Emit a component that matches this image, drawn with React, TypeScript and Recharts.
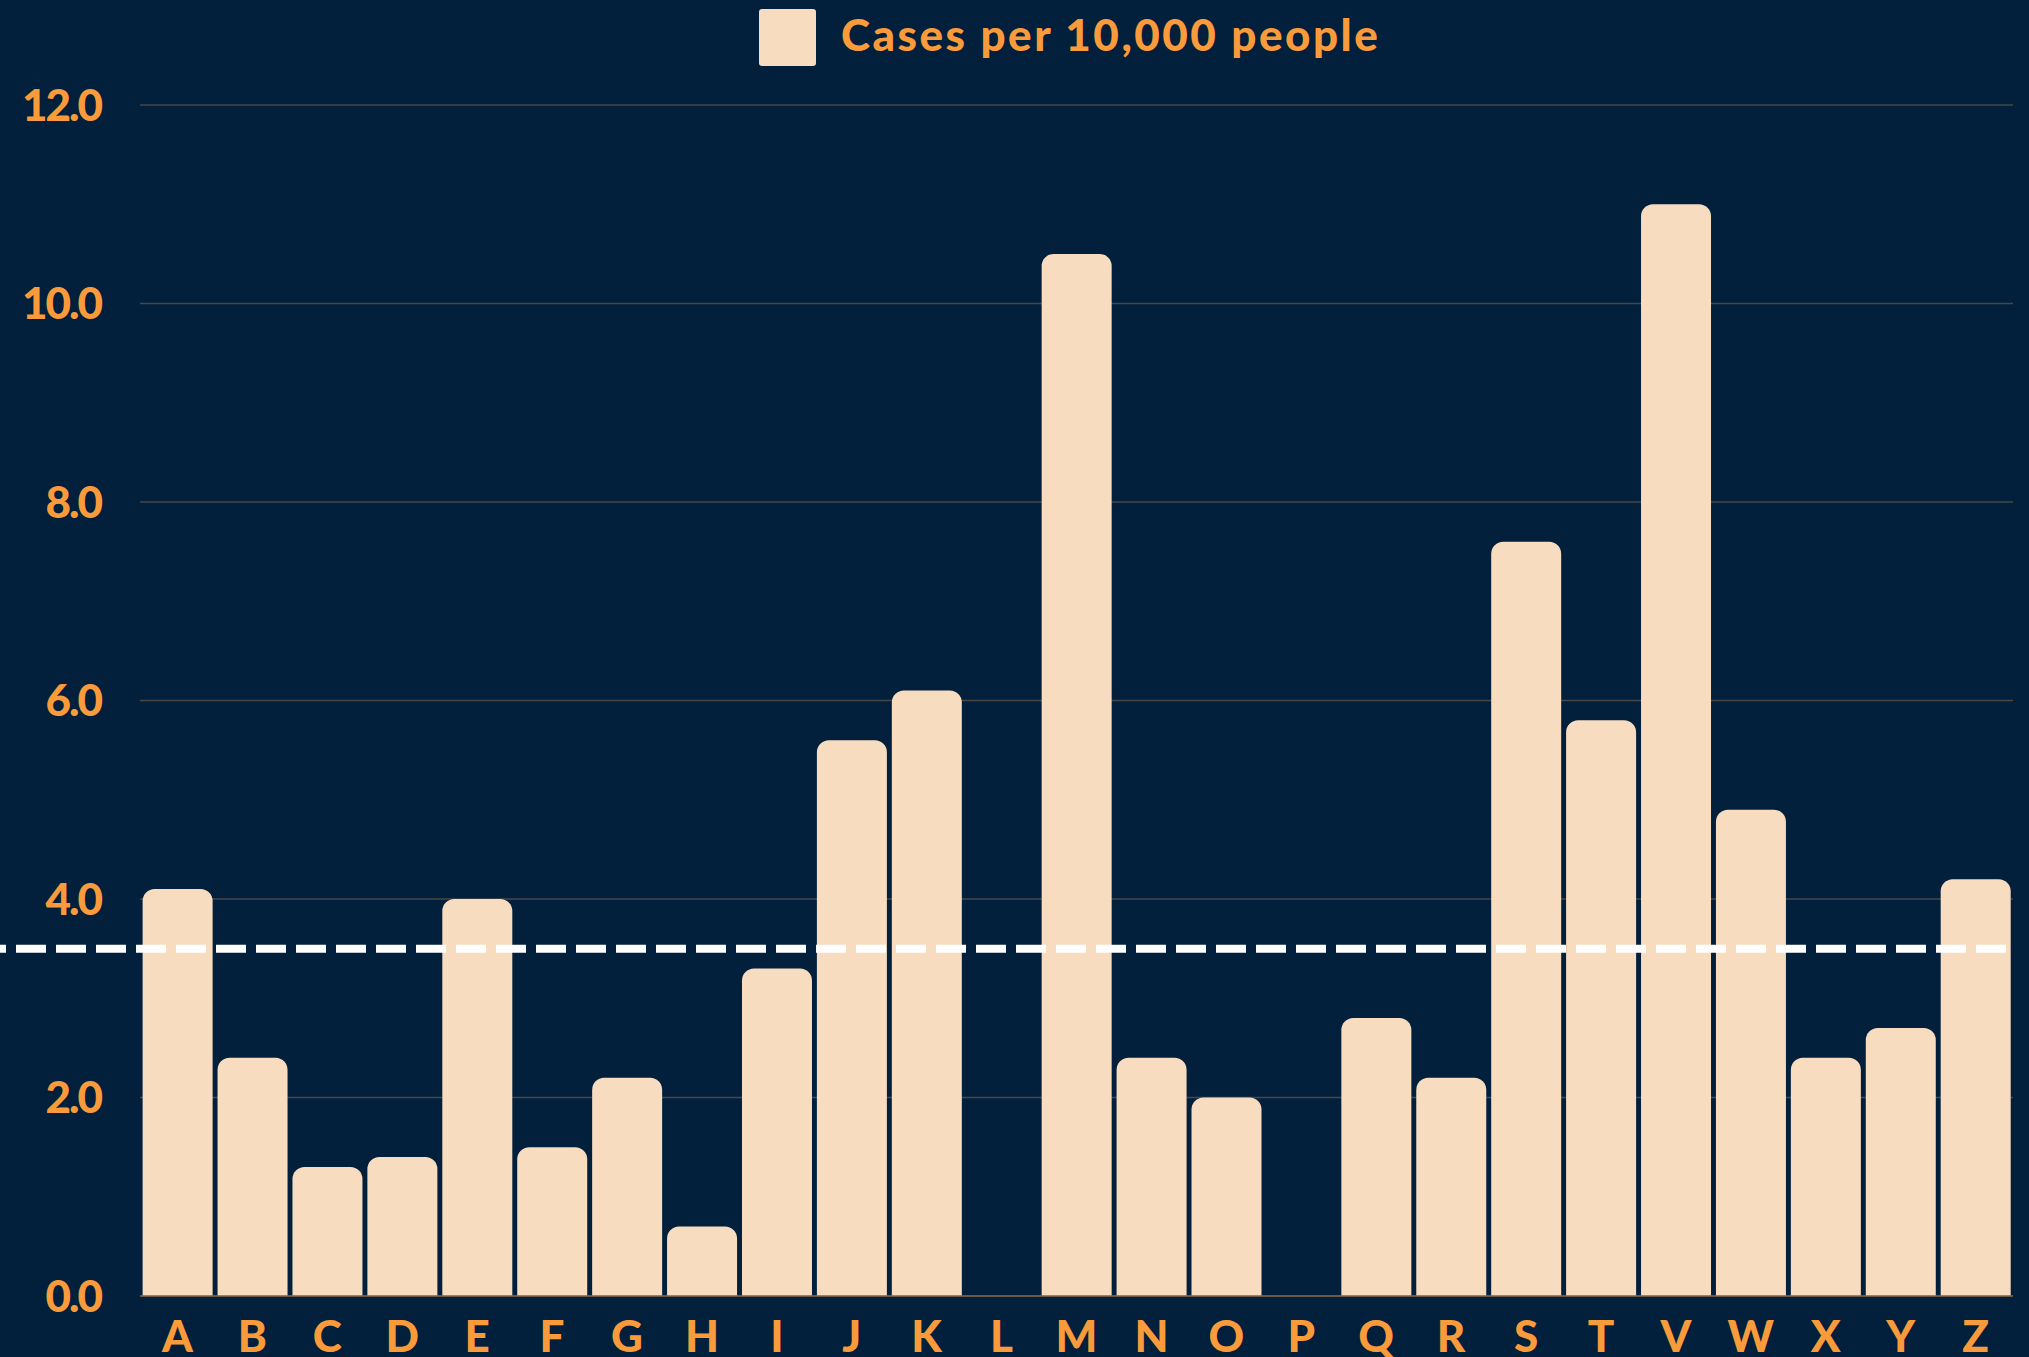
import { BarChart, Bar, XAxis, YAxis, CartesianGrid, Legend, ReferenceLine } from "recharts";

const regions = ["A", "B", "C", "D", "E", "F", "G", "H", "I", "J", "K", "L", "M", "N", "O", "P", "Q", "R", "S", "T", "V", "W", "X", "Y", "Z"];
const casesPer10k = [4.1, 2.4, 1.3, 1.4, 4.0, 1.5, 2.2, 0.7, 3.3, 5.6, 6.1, 0, 10.5, 2.4, 2.0, 0, 2.8, 2.2, 7.6, 5.8, 11.0, 4.9, 2.4, 2.7, 4.2];
const yTicks = [0, 2, 4, 6, 8, 10, 12];
const averageCases = 3.5;

const data = regions.map((region, i) => ({ region, cases: casesPer10k[i] }));

const BG = "#021F3C";
const PEACH = "#F7DCBF";
const ORANGE = "#F99A3B";
const FONT = "Lato, 'Noto Sans', sans-serif";

// dashed average line runs out to the left edge of the picture
const AverageLine = (props: any) => (
  <line
    x1={0}
    y1={props.y1}
    x2={props.x2}
    y2={props.y2}
    stroke="#FFFFFF"
    strokeWidth={8}
    strokeDasharray="30 10"
    strokeDashoffset={24}
  />
);

const LegendBox = () => (
  <div style={{ display: "flex", alignItems: "center", fontFamily: FONT }}>
    <div style={{ width: 57, height: 57, background: PEACH, borderRadius: 3, marginRight: 25 }} />
    <span style={{ color: ORANGE, fontSize: 44, fontWeight: 900, letterSpacing: 2.5, whiteSpace: "nowrap", marginTop: -8 }}>
      Cases per 10,000 people
    </span>
  </div>
);

export default function App() {
  return (
    <div style={{ position: "fixed", left: 0, top: 0, width: 2029, height: 1357, background: BG }}>
      <BarChart
        width={2029}
        height={1357}
        data={data}
        margin={{ top: 105, right: 16, left: 0, bottom: 0 }}
        barCategoryGap="3.5%"
      >
        <CartesianGrid vertical={false} stroke="#474747" strokeWidth={1.5} />
        <XAxis
          dataKey="region"
          height={61}
          tickLine={false}
          tickSize={0}
          tickMargin={25}
          axisLine={{ stroke: "#7d6446", strokeWidth: 1.5 }}
          interval={0}
          tick={{ fill: ORANGE, fontSize: 44, fontWeight: 900, fontFamily: FONT }}
        />
        <YAxis
          width={140}
          domain={[0, 12]}
          ticks={yTicks}
          tickFormatter={(v: number) => v.toFixed(1)}
          axisLine={false}
          tickLine={false}
          tickSize={0}
          tickMargin={39}
          tick={{ fill: ORANGE, fontSize: 44, fontWeight: 900, fontFamily: FONT, letterSpacing: -2 }}
        />
        <Legend
          verticalAlign="middle"
          align="center"
          layout="horizontal"
          content={() => <LegendBox />}
          wrapperStyle={{ top: 9, left: 759, width: 760 }}
        />
        <Bar dataKey="cases" name="Cases per 10,000 people" fill={PEACH} radius={[12, 12, 0, 0]} isAnimationActive={false} />
        <ReferenceLine y={averageCases} shape={AverageLine} />
      </BarChart>
    </div>
  );
}
